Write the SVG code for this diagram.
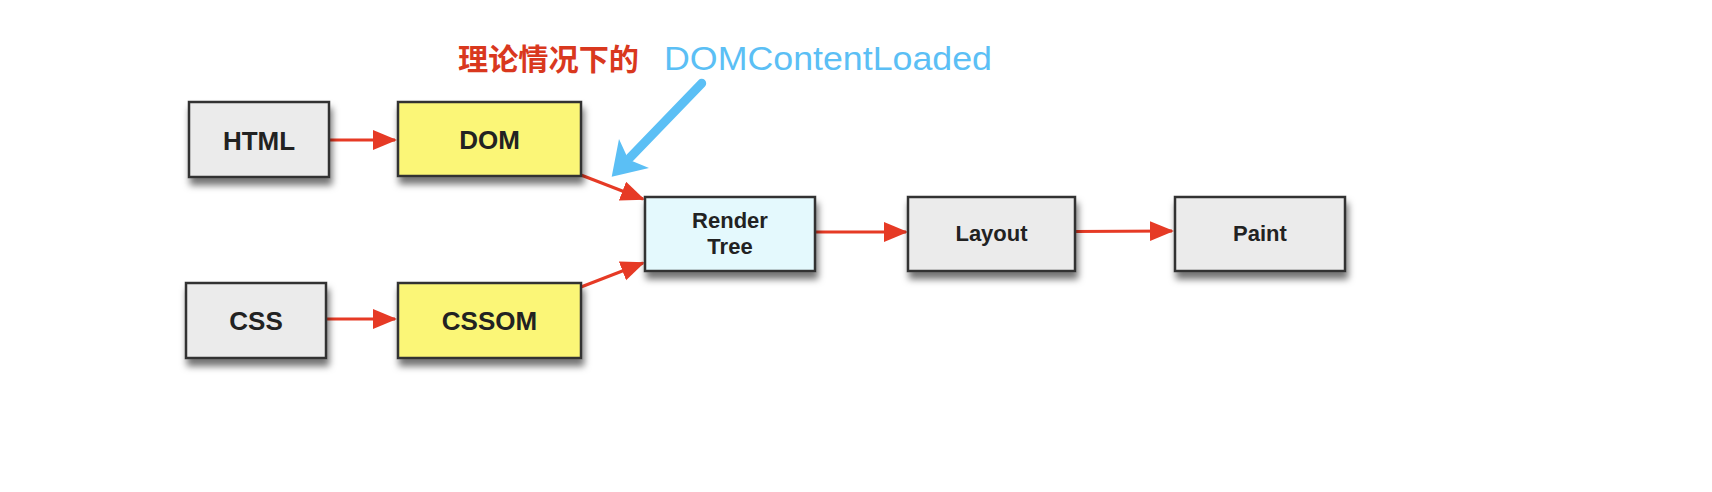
<svg xmlns="http://www.w3.org/2000/svg" width="1712" height="492" viewBox="0 0 1712 492">
  <defs>
    <filter id="shadow" x="-20%" y="-20%" width="150%" height="170%">
      <feDropShadow dx="2" dy="7" stdDeviation="3.5" flood-color="#000" flood-opacity="0.55"/>
    </filter>
    <marker id="redhead" markerUnits="userSpaceOnUse" markerWidth="26" markerHeight="22" refX="22" refY="10" orient="auto">
      <path d="M0,0 L24,10 L0,20 z" fill="#e63a25"/>
    </marker>
    <style>
      .box { stroke: #333; stroke-width: 2.5; filter: url(#shadow); }
      .gray { fill: #ebebeb; }
      .yellow { fill: #fbf677; }
      .cyan { fill: #e4f9fd; }
      .lbl { font-family: "Liberation Sans", Arial, sans-serif; font-weight: bold; fill: #222; text-anchor: middle; }
      .big { font-size: 26px; }
      .small { font-size: 22px; }
      .conn { stroke: #e63a25; stroke-width: 3; fill: none; marker-end: url(#redhead); }
    </style>
  </defs>
  <rect width="1712" height="492" fill="#fff"/>

  <g id="annotation">
    <text x="458" y="70" font-family="'Liberation Sans', 'Noto Sans CJK SC', sans-serif" font-size="30" font-weight="bold" fill="#d9381e" textLength="181" lengthAdjust="spacingAndGlyphs">理论情况下的</text>
    <text x="664" y="70" font-family="'Liberation Sans', Arial, sans-serif" font-size="33" fill="#5bbff5" textLength="328" lengthAdjust="spacingAndGlyphs">DOMContentLoaded</text>
    <line x1="701.7" y1="83.3" x2="630" y2="157.7" stroke="#5bbff5" stroke-width="9" stroke-linecap="round"/>
    <polygon points="611.7,176.7 649,168 628.4,159.4 619,139" fill="#5bbff5"/>
  </g>

  <g id="connectors">
    <line class="conn" x1="329" y1="140" x2="395" y2="140"/>
    <line class="conn" x1="326" y1="319" x2="395" y2="319"/>
    <line class="conn" x1="581" y1="175" x2="643" y2="199"/>
    <line class="conn" x1="581" y1="287" x2="643" y2="263"/>
    <line class="conn" x1="815" y1="232" x2="906" y2="232"/>
    <line class="conn" x1="1075" y1="231.5" x2="1172" y2="231"/>
  </g>

  <g id="html">
    <rect class="box gray" x="189" y="102" width="140" height="75"/>
    <text class="lbl big" x="259" y="150">HTML</text>
  </g>
  <g id="dom">
    <rect class="box yellow" x="398" y="102" width="183" height="74"/>
    <text class="lbl big" x="489.5" y="149">DOM</text>
  </g>
  <g id="css">
    <rect class="box gray" x="186" y="283" width="140" height="75"/>
    <text class="lbl big" x="256" y="330">CSS</text>
  </g>
  <g id="cssom">
    <rect class="box yellow" x="398" y="283" width="183" height="75"/>
    <text class="lbl big" x="489.5" y="330">CSSOM</text>
  </g>
  <g id="render-tree">
    <rect class="box cyan" x="645" y="197" width="170" height="74"/>
    <text class="lbl small" x="730" y="228">Render</text>
    <text class="lbl small" x="730" y="254">Tree</text>
  </g>
  <g id="layout">
    <rect class="box gray" x="908" y="197" width="167" height="74"/>
    <text class="lbl small" x="991.5" y="241">Layout</text>
  </g>
  <g id="paint">
    <rect class="box gray" x="1175" y="197" width="170" height="74"/>
    <text class="lbl small" x="1260" y="241">Paint</text>
  </g>
</svg>
